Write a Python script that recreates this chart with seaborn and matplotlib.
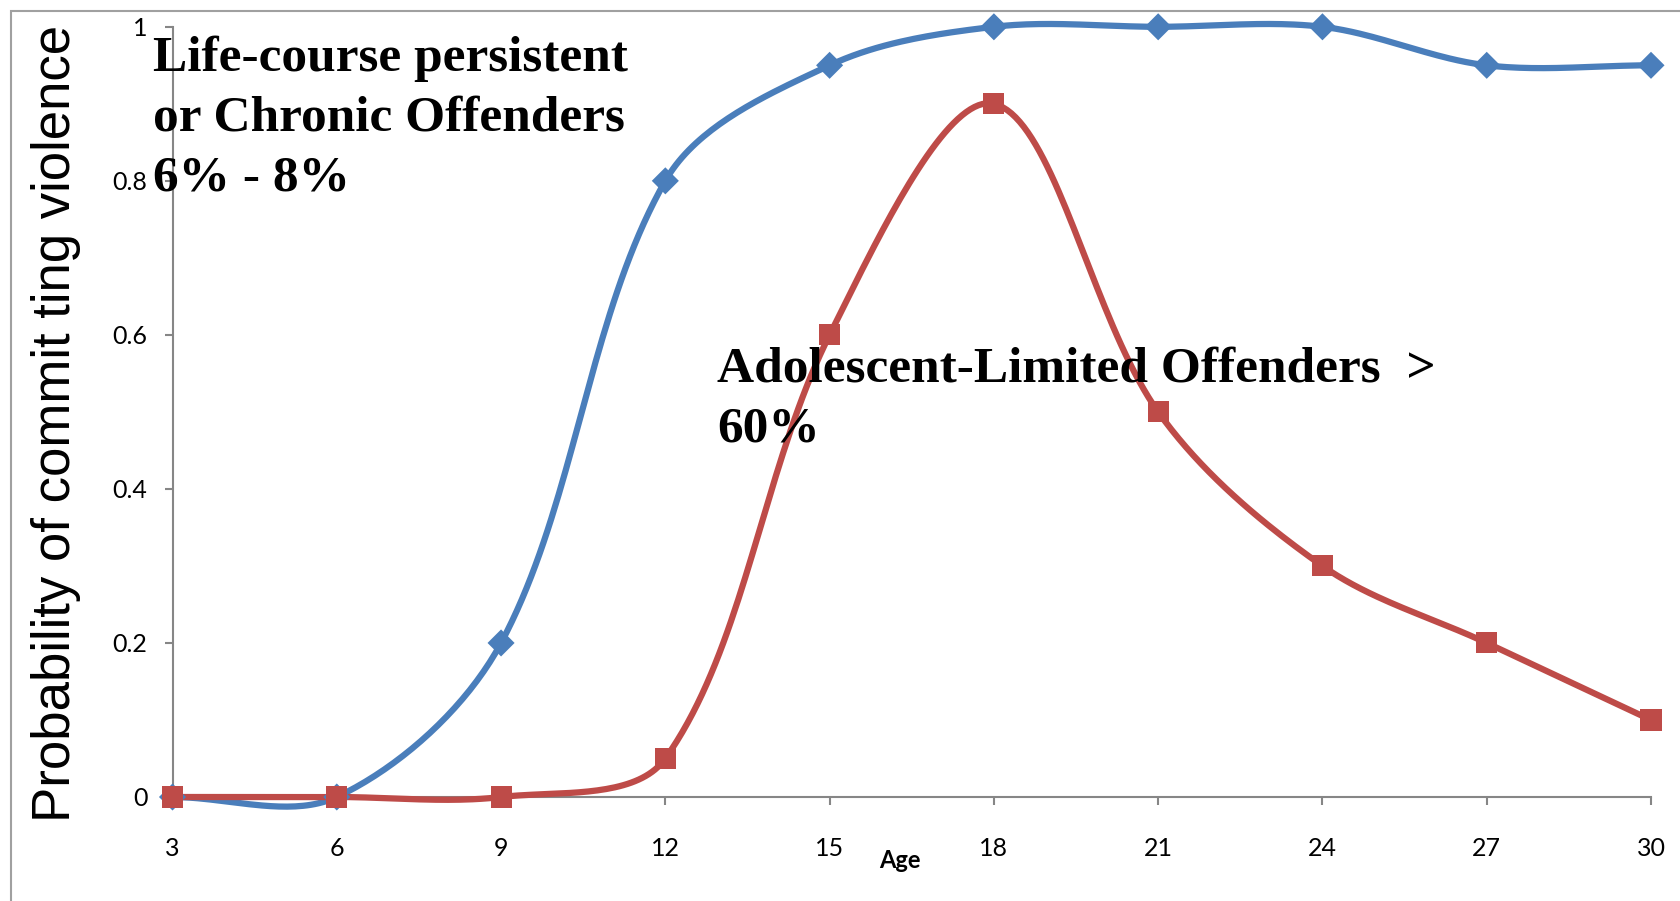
import numpy as np
import pandas as pd
import seaborn as sns
import matplotlib.pyplot as plt
from matplotlib.patches import Rectangle

# Age on the x axis, probability on the y axis
ages = [3, 6, 9, 12, 15, 18, 21, 24, 27, 30]
life_course = [0, 0, 0.2, 0.8, 0.95, 1, 1, 1, 0.95, 0.95]
adolescent = [0, 0, 0, 0.05, 0.6, 0.9, 0.5, 0.3, 0.2, 0.1]
y_ticks = [0, 0.2, 0.4, 0.6, 0.8, 1]
y_tick_labels = ["0", "0.2", "0.4", "0.6", "0.8", "1"]

blue = "#4A7EBB"
red = "#BE4B48"

# plot area in pixels (for the smoothing, done in screen space like Excel)
AX_W, AX_H = 1478.5, 770.2


def smooth(x, y, n=40):
    # Excel-like smoothed line: cubic Bezier, tangents weighted by chord length
    sx = AX_W / (max(ages) - min(ages))
    p = np.column_stack([np.asarray(x, float) * sx, np.asarray(y, float) * AX_H])
    p = np.vstack([p[0], p, p[-1]])
    t = np.linspace(0, 1, n, endpoint=False)[:, None]
    parts = []
    for i in range(1, len(p) - 2):
        p0, p1, p2, p3 = p[i - 1], p[i], p[i + 1], p[i + 2]
        d01 = np.hypot(*(p1 - p0))
        d12 = np.hypot(*(p2 - p1))
        d23 = np.hypot(*(p3 - p2))
        c1 = p1 + (p2 - p0) * d12 / (d01 + d12) / 3
        c2 = p2 - (p3 - p1) * d12 / (d12 + d23) / 3
        parts.append((1 - t) ** 3 * p1 + 3 * (1 - t) ** 2 * t * c1
                     + 3 * (1 - t) * t ** 2 * c2 + t ** 3 * p2)
    parts.append(p[-2][None])
    out = np.vstack(parts)
    return out[:, 0] / sx, out[:, 1] / AX_H


sns.set_style("white")
plt.rcParams["font.family"] = ["Lato", "DejaVu Sans"]
plt.rcParams["text.color"] = "black"
plt.rcParams["axes.labelcolor"] = "black"
plt.rcParams["xtick.color"] = "black"
plt.rcParams["ytick.color"] = "black"

fig = plt.figure(figsize=(16.8, 9.01), dpi=100)
ax = fig.add_axes([172.5 / 1680, 104 / 901, AX_W / 1680, AX_H / 901])

df = pd.DataFrame({"age": ages, "life": life_course, "adol": adolescent})

for col, color in [("life", blue), ("adol", red)]:
    sx, sy = smooth(df["age"], df[col])
    sns.lineplot(x=sx, y=sy, sort=False, estimator=None, color=color,
                 linewidth=4.5, ax=ax, clip_on=False, zorder=3)

sns.scatterplot(data=df, x="age", y="life", marker="D", s=190, color=blue,
                edgecolor="none", linewidth=0, ax=ax, clip_on=False, zorder=4)
sns.scatterplot(data=df, x="age", y="adol", marker="s", s=230, color=red,
                edgecolor="none", linewidth=0, ax=ax, clip_on=False, zorder=5)

ax.set_xlim(3, 30)
ax.set_ylim(0, 1)
ax.set_xticks(ages)
ax.set_xticklabels([str(a) for a in ages])
ax.set_yticks(y_ticks)
ax.set_yticklabels(y_tick_labels)
ax.tick_params(axis="x", direction="out", length=6, width=1.5, color="#868686",
               labelsize=18, pad=23, bottom=True)
ax.tick_params(axis="y", direction="out", length=6, width=1.5, color="#868686",
               labelsize=18, pad=12, left=True)
for s in ["top", "right"]:
    ax.spines[s].set_visible(False)
for s in ["left", "bottom"]:
    ax.spines[s].set_color("#868686")
    ax.spines[s].set_linewidth(1.5)
ax.grid(False)

ax.set_xlabel("Age", fontsize=17, fontweight="bold")
ax.xaxis.set_label_coords(0.492, -0.068)
ax.set_ylabel("")

fig.text(56 / 1680, 1 - 423.5 / 901, "Probability of commit ting violence",
         rotation=90, ha="center", va="center", fontsize=38,
         family=["Liberation Sans", "DejaVu Sans"])

serif = ["Liberation Serif", "DejaVu Serif"]
fig.text(153 / 1680, 1 - 190.7 / 901,
         "Life-course persistent\nor Chronic Offenders\n6% - 8%",
         ha="left", va="baseline", fontsize=37, fontweight="bold",
         family=serif, linespacing=1.40, zorder=10)
fig.text(717 / 1680, 1 - 441 / 901,
         "Adolescent-Limited Offenders  >\n60%",
         ha="left", va="baseline", fontsize=37, fontweight="bold",
         family=serif, linespacing=1.40, zorder=10)

# outer chart border
fig.patches.append(Rectangle((10.5 / 1680, -0.02), 1.2, 1.02 - 11 / 901,
                             transform=fig.transFigure, fill=False,
                             edgecolor="#a0a0a0", linewidth=1.5))

fig.savefig("out.png", dpi=100)
